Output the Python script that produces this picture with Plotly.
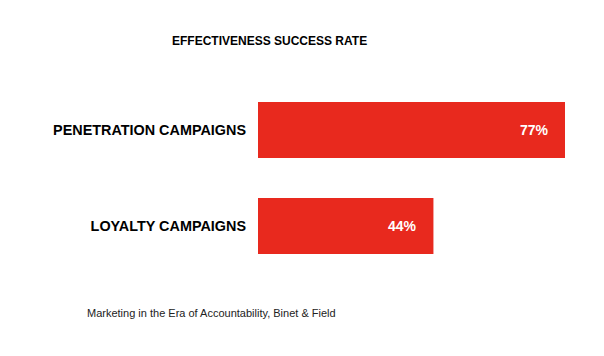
import plotly.graph_objects as go

categories = ["PENETRATION CAMPAIGNS", "LOYALTY CAMPAIGNS"]
values = [77, 44]
value_labels = ["77%", "44%"]
title_text = "EFFECTIVENESS SUCCESS RATE"
source_text = "Marketing in the Era of Accountability, Binet & Field"

BAR_COLOR = "#E8291E"
FONT = "Liberation Sans, Arial, sans-serif"

W, H = 604, 356
OFF = 8  # default page body margin
L, R, T, B = 258 - OFF, 39 + OFF, 82 - OFF, 82 + OFF
PW, PH = W - L - R, H - T - B


def px_to_paper(sx, sy):
    fx, fy = sx - OFF, sy - OFF
    return (fx - L) / PW, 1 - (fy - T) / PH


fig = go.Figure(
    go.Bar(
        x=values,
        y=categories,
        orientation="h",
        marker=dict(color=BAR_COLOR, line=dict(width=0)),
        width=0.585,
        hoverinfo="skip",
    )
)

for cat, val, lab in zip(categories, values, value_labels):
    fig.add_annotation(
        x=val, y=cat, xref="x", yref="y",
        text=f"<b>{lab}</b>", showarrow=False,
        xanchor="right", yanchor="middle", xshift=-14,
        font=dict(family=FONT, size=14, color="white"),
    )

tx, ty = px_to_paper(269, 41)
fig.add_annotation(
    x=tx, y=ty, xref="paper", yref="paper",
    text=f"<b>{title_text}</b>", showarrow=False,
    xanchor="center", yanchor="middle",
    font=dict(family=FONT, size=12, color="black"),
)
sx, sy = px_to_paper(85, 313)
fig.add_annotation(
    x=sx, y=sy, xref="paper", yref="paper",
    text=source_text, showarrow=False,
    xanchor="left", yanchor="middle",
    font=dict(family=FONT, size=11, color="#222"),
)

fig.update_layout(
    width=W, height=H,
    margin=dict(l=L, r=R, t=T, b=B),
    paper_bgcolor="white", plot_bgcolor="white",
    showlegend=False,
    xaxis=dict(range=[0, 77], visible=False, fixedrange=True),
    yaxis=dict(
        autorange="reversed", showgrid=False, zeroline=False, showline=False,
        ticks="", ticklabelstandoff=11,
        tickfont=dict(family=FONT, size=14.4, color="black", weight="bold"),
    ),
    font=dict(family=FONT),
)

fig.write_html("out.html")
